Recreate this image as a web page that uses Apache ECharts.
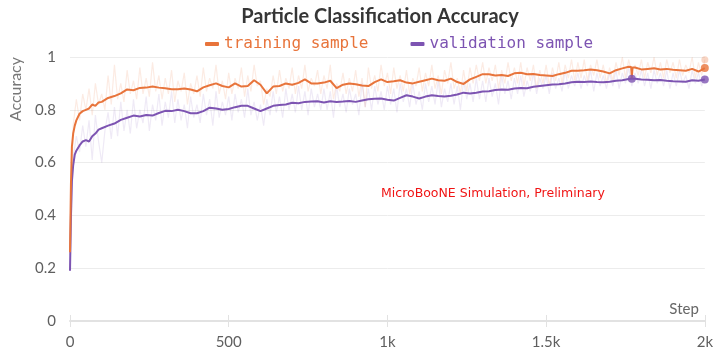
<!DOCTYPE html>
<html>
<head>
<meta charset="utf-8">
<script src="https://cdn.jsdelivr.net/npm/echarts@6/dist/echarts.min.js"></script>
<style>
  html, body { margin: 0; padding: 0; background: #fff; }
  #chart { width: 716px; height: 354px; }
</style>
</head>
<body>
<div id="chart"></div>
<script>
// Training steps at which the smoothed curves are sampled
const smoothSteps = [0, 3, 6, 10, 15, 20, 30, 40, 50, 60, 70, 80, 90, 100,
  120, 140, 160, 180, 200, 220, 240, 260, 280, 300, 320, 340, 360, 380, 400,
  420, 440, 460, 480, 500, 520, 540, 560, 580, 600, 620, 640, 660, 680, 700,
  720, 740, 760, 780, 800, 820, 840, 860, 880, 900, 920, 940, 960, 980, 1000,
  1020, 1040, 1060, 1080, 1100, 1120, 1140, 1160, 1180, 1200, 1220, 1240, 1260, 1280, 1300,
  1320, 1340, 1360, 1380, 1400, 1420, 1440, 1460, 1480, 1500, 1520, 1540, 1560, 1580, 1600,
  1620, 1640, 1660, 1680, 1700, 1720, 1740, 1760, 1768, 1770, 1772, 1780, 1800, 1820, 1840, 1860, 1880, 1900,
  1920, 1940, 1960, 1980, 2000];

// Smoothed accuracy, training sample
const trainSmooth = [0.26, 0.52, 0.66, 0.71, 0.74, 0.76, 0.785, 0.795, 0.80, 0.805, 0.82, 0.815, 0.828, 0.83,
  0.845, 0.852, 0.862, 0.877, 0.874, 0.883, 0.884, 0.888, 0.884, 0.882, 0.878, 0.878, 0.881, 0.877, 0.87,
  0.885, 0.893, 0.90, 0.89, 0.885, 0.90, 0.888, 0.89, 0.912, 0.895, 0.862, 0.888, 0.89, 0.90, 0.895,
  0.902, 0.915, 0.90, 0.90, 0.903, 0.91, 0.882, 0.895, 0.90, 0.897, 0.892, 0.89, 0.905, 0.915, 0.905,
  0.908, 0.912, 0.903, 0.90, 0.906, 0.912, 0.918, 0.912, 0.91, 0.918, 0.905, 0.898, 0.915, 0.925, 0.935,
  0.935, 0.93, 0.932, 0.928, 0.938, 0.94, 0.935, 0.936, 0.932, 0.93, 0.928, 0.935, 0.94, 0.948, 0.948,
  0.95, 0.953, 0.95, 0.945, 0.938, 0.95, 0.957, 0.963, 0.962, 0.92, 0.96, 0.96, 0.953, 0.955, 0.957, 0.953, 0.955, 0.952,
  0.95, 0.948, 0.955, 0.945, 0.958];

// Smoothed accuracy, validation sample
const validSmooth = [0.19, 0.40, 0.53, 0.59, 0.63, 0.645, 0.665, 0.68, 0.685, 0.68, 0.70, 0.71, 0.725, 0.73,
  0.74, 0.748, 0.762, 0.77, 0.778, 0.775, 0.78, 0.778, 0.788, 0.796, 0.795, 0.80, 0.795, 0.787, 0.787,
  0.795, 0.808, 0.805, 0.80, 0.803, 0.81, 0.815, 0.815, 0.805, 0.795, 0.805, 0.815, 0.818, 0.82, 0.827,
  0.825, 0.83, 0.831, 0.832, 0.828, 0.832, 0.83, 0.831, 0.833, 0.83, 0.835, 0.84, 0.842, 0.843, 0.838,
  0.835, 0.845, 0.855, 0.85, 0.843, 0.85, 0.855, 0.852, 0.85, 0.853, 0.858, 0.865, 0.862, 0.865, 0.869,
  0.87, 0.875, 0.877, 0.876, 0.881, 0.883, 0.882, 0.887, 0.89, 0.893, 0.896, 0.897, 0.90, 0.904, 0.906,
  0.905, 0.907, 0.905, 0.904, 0.906, 0.91, 0.912, 0.917, 0.918, 0.918, 0.918, 0.918, 0.915, 0.914, 0.912, 0.913, 0.91, 0.908,
  0.907, 0.906, 0.912, 0.91, 0.915];

// Raw (unsmoothed) accuracy, logged every 10 steps from 0 to 2000
const rawSteps = Array.from({ length: 201 }, (_, i) => i * 10);

const trainRaw = [
  0.25, 0.74, 0.84, 0.76, 0.86, 0.80, 0.88, 0.78, 0.90, 0.82,
  0.86, 0.80, 0.93, 0.82, 0.97, 0.84, 0.90, 0.83, 0.95, 0.86,
  0.91, 0.84, 0.96, 0.86, 0.92, 0.85, 0.98, 0.87, 0.93, 0.84,
  0.92, 0.86, 0.95, 0.83, 0.91, 0.87, 0.94, 0.82, 0.90, 0.86,
  0.93, 0.85, 0.96, 0.87, 0.92, 0.88, 0.97, 0.86, 0.91, 0.84,
  0.94, 0.86, 0.92, 0.88, 0.96, 0.85, 0.93, 0.87, 0.97, 0.89,
  0.91, 0.82, 0.88, 0.85, 0.93, 0.86, 0.95, 0.87, 0.92, 0.88,
  0.96, 0.86, 0.93, 0.88, 0.97, 0.87, 0.92, 0.89, 0.95, 0.86,
  0.93, 0.88, 0.97, 0.84, 0.90, 0.87, 0.94, 0.86, 0.92, 0.87,
  0.95, 0.85, 0.92, 0.81, 0.96, 0.88, 0.93, 0.87, 0.97, 0.89,
  0.94, 0.86, 0.96, 0.88, 0.93, 0.87, 0.95, 0.86, 0.92, 0.89,
  0.96, 0.87, 0.94, 0.89, 0.97, 0.88, 0.93, 0.86, 0.95, 0.90,
  0.98, 0.88, 0.92, 0.86, 0.95, 0.87, 0.96, 0.90, 0.97, 0.91,
  0.98, 0.90, 0.96, 0.91, 0.97, 0.88, 0.95, 0.90, 0.98, 0.91,
  0.96, 0.90, 0.98, 0.89, 0.96, 0.91, 0.97, 0.88, 0.95, 0.90,
  0.97, 0.89, 0.96, 0.91, 0.98, 0.90, 0.97, 0.92, 0.99, 0.91,
  0.98, 0.92, 0.99, 0.91, 0.97, 0.93, 0.99, 0.92, 0.97, 0.90,
  0.96, 0.91, 0.98, 0.93, 1.00, 0.92, 0.99, 0.94, 0.97, 0.93,
  0.99, 0.92, 0.98, 0.94, 1.00, 0.93, 0.98, 0.92, 0.99, 0.94,
  0.98, 0.92, 0.99, 0.93, 0.97, 0.94, 1.00, 0.92, 0.98, 0.93,
  0.99];

const validRaw = [
  0.19, 0.62, 0.70, 0.64, 0.74, 0.66, 0.76, 0.61, 0.78, 0.68,
  0.60, 0.72, 0.79, 0.69, 0.81, 0.70, 0.83, 0.72, 0.80, 0.71,
  0.84, 0.73, 0.80, 0.75, 0.85, 0.72, 0.82, 0.76, 0.86, 0.74,
  0.83, 0.77, 0.87, 0.75, 0.84, 0.76, 0.82, 0.73, 0.85, 0.77,
  0.82, 0.75, 0.86, 0.78, 0.84, 0.74, 0.87, 0.77, 0.83, 0.78,
  0.85, 0.76, 0.86, 0.79, 0.84, 0.77, 0.88, 0.78, 0.83, 0.76,
  0.82, 0.74, 0.84, 0.78, 0.87, 0.79, 0.85, 0.77, 0.88, 0.80,
  0.86, 0.79, 0.89, 0.80, 0.87, 0.78, 0.88, 0.81, 0.86, 0.80,
  0.88, 0.80, 0.87, 0.77, 0.89, 0.81, 0.86, 0.79, 0.88, 0.82,
  0.86, 0.78, 0.90, 0.81, 0.88, 0.80, 0.89, 0.82, 0.87, 0.80,
  0.89, 0.82, 0.88, 0.79, 0.90, 0.83, 0.88, 0.81, 0.90, 0.82,
  0.87, 0.80, 0.90, 0.83, 0.89, 0.82, 0.91, 0.81, 0.88, 0.83,
  0.90, 0.82, 0.89, 0.80, 0.91, 0.84, 0.90, 0.83, 0.92, 0.84,
  0.91, 0.83, 0.92, 0.85, 0.90, 0.82, 0.93, 0.86, 0.91, 0.84,
  0.92, 0.86, 0.93, 0.85, 0.91, 0.87, 0.94, 0.86, 0.92, 0.88,
  0.93, 0.86, 0.94, 0.88, 0.92, 0.87, 0.95, 0.88, 0.93, 0.89,
  0.94, 0.88, 0.93, 0.89, 0.95, 0.87, 0.94, 0.89, 0.93, 0.88,
  0.94, 0.89, 0.95, 0.88, 0.94, 0.90, 0.96, 0.89, 0.94, 0.90,
  0.95, 0.89, 0.94, 0.88, 0.95, 0.90, 0.94, 0.89, 0.95, 0.88,
  0.94, 0.89, 0.95, 0.90, 0.93, 0.88, 0.95, 0.90, 0.94, 0.89,
  0.93];

// Steps that carry a highlighted point on the smoothed curves
const markedSteps = [1770, 2000];

const xTickLabels = { 0: '0', 500: '500', 1000: '1k', 1500: '1.5k', 2000: '2k' };

const ORANGE = '#e8743b';
const PURPLE = '#7d54b2';

const pairs = (xs, ys) => xs.map((x, i) => [x, ys[i]]);
const pick = (xs, ys, wanted) => wanted.map(s => [s, ys[xs.indexOf(s)]]);

const chart = echarts.init(document.getElementById('chart'), null, { renderer: 'canvas' });

const labelFont = { color: '#5f5f5f', fontSize: 15, fontFamily: 'Lato' };

chart.setOption({
  backgroundColor: '#ffffff',
  animation: false,
  title: {
    text: 'Particle Classification Accuracy',
    left: 375,
    top: 2,
    textAlign: 'center',
    textStyle: { fontFamily: 'Lato', fontWeight: 'bold', fontSize: 20, color: '#363636' }
  },
  legend: {
    left: 200,
    top: 31,
    itemWidth: 14,
    itemHeight: 4,
    itemGap: 42,
    icon: 'roundRect',
    textStyle: { fontFamily: 'DejaVu Sans Mono', fontSize: 16 },
    data: [
      { name: 'training sample', itemStyle: { color: ORANGE }, textStyle: { color: ORANGE } },
      { name: 'validation sample', itemStyle: { color: PURPLE }, textStyle: { color: PURPLE } }
    ]
  },
  grid: { left: 70, right: 10, top: 57, bottom: 33, containLabel: false },
  xAxis: [{
    type: 'value',
    min: 0,
    max: 2000,
    interval: 500,
    name: 'Step',
    nameLocation: 'end',
    nameGap: 0,
    nameTextStyle: { color: '#666', fontSize: 15, fontFamily: 'Lato', align: 'right', verticalAlign: 'bottom', padding: [0, 6, 4, 0] },
    axisLine: { show: true, lineStyle: { color: '#e2e2e2', width: 2 } },
    axisTick: { show: true, length: 6, lineStyle: { color: '#e2e2e2', width: 1 } },
    axisLabel: Object.assign({ margin: 14, formatter: v => xTickLabels[v] }, labelFont),
    splitLine: { show: false }
  }, {
    // inner half of the tick marks, sharing the same scale
    type: 'value',
    min: 0,
    max: 2000,
    interval: 500,
    position: 'bottom',
    axisLine: { show: false },
    axisTick: { show: true, inside: true, length: 6, lineStyle: { color: '#e2e2e2', width: 1 } },
    axisLabel: { show: false },
    splitLine: { show: false }
  }],
  yAxis: {
    type: 'value',
    min: 0,
    max: 1,
    interval: 0.2,
    name: 'Accuracy',
    nameLocation: 'end',
    nameRotate: 90,
    nameGap: 0,
    nameTextStyle: { color: '#777', fontSize: 16, fontFamily: 'Lato', align: 'right', verticalAlign: 'bottom', padding: [0, 0, 46, 0] },
    axisLine: { show: false },
    axisTick: { show: false },
    axisLabel: Object.assign({ margin: 14, formatter: v => String(Math.round(v * 10) / 10) }, labelFont),
    splitLine: { show: true, lineStyle: { color: '#ececec', width: 1 } }
  },
  graphic: [{
    type: 'text',
    left: 381,
    top: 187,
    style: { text: 'MicroBooNE Simulation, Preliminary', fill: '#f01414', fontFamily: 'DejaVu Sans', fontSize: 12.5 }
  }],
  series: [
    {
      name: 'training sample raw', type: 'line', data: pairs(rawSteps, trainRaw),
      showSymbol: false, silent: true, z: 1,
      lineStyle: { color: ORANGE, width: 1.2, opacity: 0.14 }
    },
    {
      name: 'validation sample raw', type: 'line', data: pairs(rawSteps, validRaw),
      showSymbol: false, silent: true, z: 1,
      lineStyle: { color: PURPLE, width: 1.2, opacity: 0.12 }
    },
    {
      name: 'validation sample', type: 'line', data: pairs(smoothSteps, validSmooth),
      showSymbol: false, z: 3, itemStyle: { color: PURPLE },
      lineStyle: { color: PURPLE, width: 2 }
    },
    {
      name: 'training sample', type: 'line', data: pairs(smoothSteps, trainSmooth),
      showSymbol: false, z: 4, itemStyle: { color: ORANGE },
      lineStyle: { color: ORANGE, width: 2 }
    },
    {
      name: 'training raw end', type: 'scatter', data: [[rawSteps[200], trainRaw[200]]],
      symbolSize: 7, z: 2, itemStyle: { color: ORANGE, opacity: 0.3 }
    },
    {
      name: 'validation marks', type: 'scatter', data: pick(smoothSteps, validSmooth, markedSteps),
      symbolSize: 8, z: 5, itemStyle: { color: PURPLE }
    },
    {
      name: 'training marks', type: 'scatter', data: pick(smoothSteps, trainSmooth, [2000]),
      symbolSize: 8, z: 5, itemStyle: { color: ORANGE }
    }
  ]
});
</script>
</body>
</html>
